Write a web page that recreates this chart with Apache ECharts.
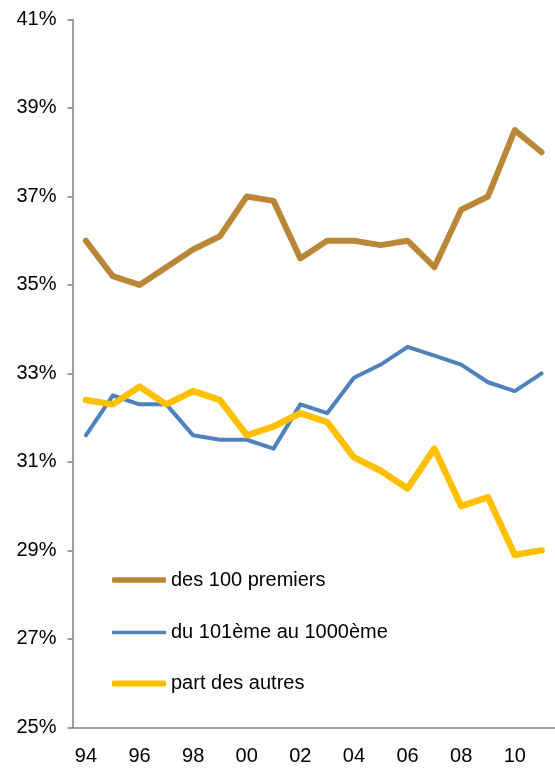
<!DOCTYPE html>
<html>
<head>
<meta charset="utf-8">
<script src="https://cdn.jsdelivr.net/npm/echarts@6/dist/echarts.min.js"></script>
<style>
    html, body { margin: 0; padding: 0; background: #fff; }
    #chart { width: 555px; height: 768px; }
</style>
</head>
<body>
<div id="chart"></div>
<script>
    var years = ['94', '95', '96', '97', '98', '99', '00', '01', '02', '03',
        '04', '05', '06', '07', '08', '09', '10', '11'];

    var top100 = [36.0, 35.2, 35.0, 35.4, 35.8, 36.1, 37.0, 36.9, 35.6, 36.0,
        36.0, 35.9, 36.0, 35.4, 36.7, 37.0, 38.5, 38.0];
    var mid = [31.6, 32.5, 32.3, 32.3, 31.6, 31.5, 31.5, 31.3, 32.3, 32.1,
        32.9, 33.2, 33.6, 33.4, 33.2, 32.8, 32.6, 33.0];
    var others = [32.4, 32.3, 32.7, 32.3, 32.6, 32.4, 31.6, 31.8, 32.1, 31.9,
        31.1, 30.8, 30.4, 31.3, 30.0, 30.2, 28.9, 29.0];

    var names = ['des 100 premiers', 'du 101ème au 1000ème', 'part des autres'];
    var colors = ['#BA8637', '#4F81BD', '#FFC000'];
    var widths = [6, 4, 6.5];

    var FONT = 'Liberation Sans';
    var AXIS = '#808080';

    var chart = echarts.init(document.getElementById('chart'));

    function line(i, data) {
        return {
            name: names[i],
            type: 'line',
            data: data,
            symbol: 'none',
            clip: false,
            lineStyle: { color: colors[i], width: widths[i], cap: 'round', join: 'round' },
            itemStyle: { color: colors[i] }
        };
    }

    // one legend per entry so each key line keeps its own thickness
    function legend(i, top) {
        return {
            left: 112,
            top: top,
            padding: 0,
            icon: 'roundRect',
            itemWidth: 54,
            itemHeight: widths[i] - 0.5,
            itemStyle: { color: colors[i] },
            data: [names[i]],
            textStyle: { fontFamily: FONT, fontSize: 20, color: '#000' }
        };
    }

    chart.setOption({
        animation: false,
        grid: { left: 72.5, right: -12.5, top: 19.5, bottom: 40.7 },
        legend: [legend(0, 570), legend(1, 622.5), legend(2, 673.5)],
        xAxis: {
            type: 'category',
            data: years,
            boundaryGap: true,
            axisLine: { lineStyle: { color: AXIS, width: 1.5 } },
            axisTick: { interval: 1, length: 5, lineStyle: { color: AXIS, width: 1.5 } },
            axisLabel: { interval: 1, margin: 19, fontFamily: FONT, fontSize: 20, color: '#000' },
            splitLine: { show: false }
        },
        yAxis: {
            type: 'value',
            min: 25,
            max: 41,
            interval: 2,
            axisLine: { show: true, lineStyle: { color: AXIS, width: 1.5 } },
            axisTick: { show: true, length: 5, lineStyle: { color: AXIS, width: 1.5 } },
            axisLabel: { margin: 16, fontFamily: FONT, fontSize: 20, color: '#000', formatter: '{value}%' },
            splitLine: { show: false }
        },
        series: [
            line(0, top100),
            line(1, mid),
            line(2, others)
        ]
    });
</script>
</body>
</html>
